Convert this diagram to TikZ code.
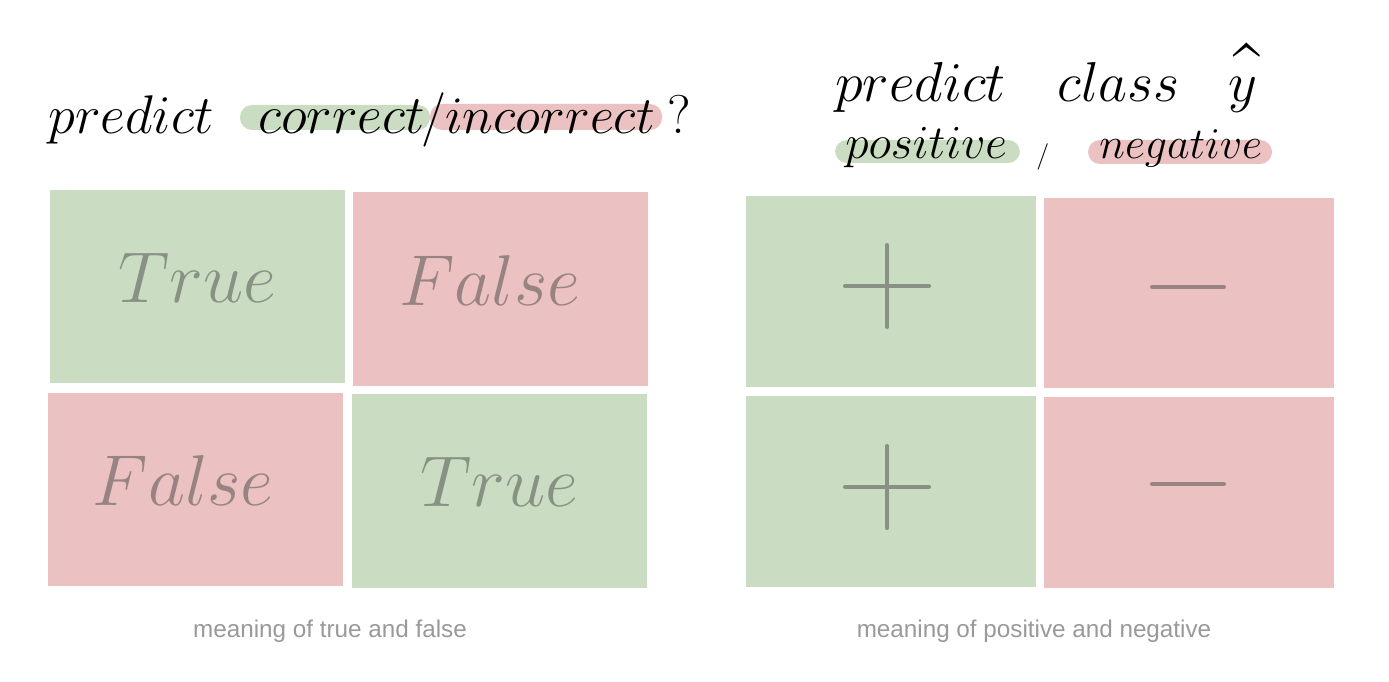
\RequirePackage{fix-cm}
\documentclass[tikz,border=0pt]{standalone}
\usepackage{fontspec}
\newfontfamily\capfont{Liberation Sans}
\usepackage{tikz}
\usetikzlibrary{positioning}

\definecolor{okgreen}{HTML}{CADDC2}
\definecolor{badred}{HTML}{EBC1C1}

\begin{document}
\begin{tikzpicture}[
  x=0.02cm, y=-0.02cm,
  cell/.style={minimum width=5.9cm, minimum height=3.88cm, inner sep=0pt, text depth=0.36cm,
    font=\fontsize{41}{48}\selectfont, text=black!72, text opacity=0.5},
  pcell/.style={minimum width=5.8cm, minimum height=3.82cm, inner sep=0pt},
  sign/.style={draw=black!72, draw opacity=0.5, line width=2.3pt, line cap=round},
  word/.style={anchor=base west, inner sep=0pt, font=\fontsize{31}{36}\selectfont},
  sword/.style={anchor=base west, inner sep=0pt, font=\fontsize{27}{32}\selectfont},
  hl/.style={rounded corners=0.24cm},
  caption/.style={anchor=base, inner sep=0pt, font=\capfont\fontsize{13.8}{16}\selectfont, text=black!40}
]
  \useasboundingbox (0,0) rectangle (1389,682);

  % left: true / false
  \fill[okgreen, hl] (240,105) rectangle (430,130);
  \fill[badred, hl] (430,104) rectangle (662,130);
  \node[word] (lpred) at (48,134) {$predict$};
  \node[word] (lcorr) at (258,134) {$correct$};
  \node[word] (lslash) at (421,134) {$/$};
  \node[word, font=\fontsize{30}{36}\selectfont] (linc) at (445,134) {$incorrect$};
  \node[word] (lq) at (667,134) {$?$};

  \node[cell, fill=okgreen] (tt1) at (197.5,286.5) {$True$};
  \node[cell, fill=badred] (tf1) at (500.5,289) {$False\hspace{12pt}$};
  \node[cell, fill=badred] (tf2) at (195.5,489.5) {$False\hspace{14pt}$};
  \node[cell, fill=okgreen] (tt2) at (499.5,491) {$True$};
  \node[caption] (lcap) at (330,637) {meaning of true and false};

  % right: positive / negative
  \node[word, font=\fontsize{32}{36}\selectfont] (rpred) at (835,102) {$predict$};
  \node[word, font=\fontsize{32}{36}\selectfont] (rclass) at (1057,102) {$class$};
  \node[word, font=\fontsize{32}{36}\selectfont] (ryhat) at (1228,102)
    {\rlap{\hspace{2.8pt}\raisebox{0pt}{\scalebox{0.85}[1.4]{\textasciicircum}}}$y$};
  \fill[okgreen, hl] (835,140) rectangle (1020,163);
  \fill[badred, hl] (1088,140) rectangle (1272,164);
  \node[sword] (rpos) at (845,159) {$positive$};
  \node[anchor=base west, inner sep=0pt, font=\fontsize{15}{18}\selectfont] (rslash) at (1036,164) {$/$};
  \node[sword, font=\fontsize{25}{30}\selectfont] (rneg) at (1099,159) {$negative$};

  \node[pcell, fill=okgreen] (pp1) at (891,291.5) {};
  \node[pcell, fill=badred] (nn1) at (1189,293) {};
  \node[pcell, fill=okgreen] (pp2) at (891,491.5) {};
  \node[pcell, fill=badred] (nn2) at (1189,492.5) {};
  \draw[sign] (845,286) -- (929,286) (887,245) -- (887,327);
  \draw[sign] (1152,287) -- (1224,287);
  \draw[sign] (845,487) -- (929,487) (887,446) -- (887,528);
  \draw[sign] (1152,484) -- (1224,484);
  \node[caption] (rcap) at (1034,637) {meaning of positive and negative};
\end{tikzpicture}
\end{document}
